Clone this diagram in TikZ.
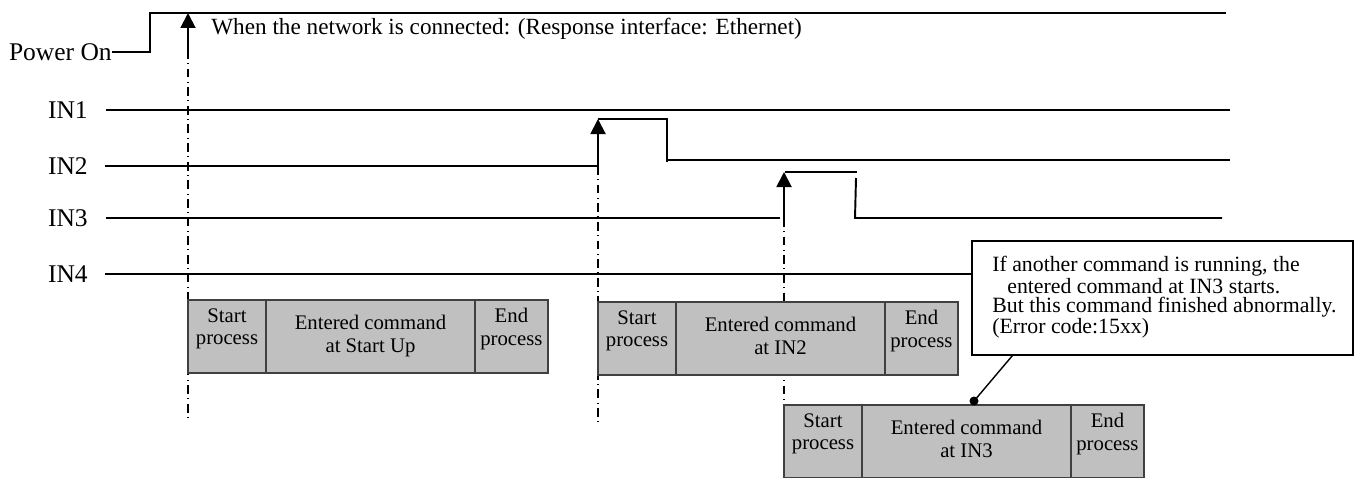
\documentclass[tikz,border=0pt]{standalone}
\usepackage{fontspec}
\setmainfont{Liberation Serif}
\usepackage{xcolor}
\usepackage{tikz}
\usetikzlibrary{calc, arrows.meta, positioning}

\definecolor{boxfill}{HTML}{C0C0C0}
\definecolor{boxline}{HTML}{404040}

\begin{document}
\begin{tikzpicture}[x=0.02cm, y=-0.02cm,
    sig/.style={line width=1.1pt},
    rise/.style={line width=1.1pt, -{Triangle[length=0.3cm, width=0.3cm]}},
    dashdot/.style={line width=0.9pt, dash pattern=on 5pt off 2.5pt on 0.6pt off 2.5pt},
    siglabel/.style={font=\fontsize{14.5}{16}\selectfont, inner sep=0pt, anchor=east},
    procbox/.style={draw=boxline, fill=boxfill, line width=0.9pt, minimum height=1.46cm,
        inner sep=0pt, outer sep=0pt, anchor=north west},
    proctext/.style={font=\fontsize{11.8}{13}\selectfont, align=center, inner sep=0pt, anchor=north},
    notebox/.style={draw, line width=0.9pt, fill=white, minimum width=7.62cm, minimum height=2.28cm,
        inner sep=0pt},
    notetext/.style={align=left, inner sep=0pt, anchor=north west,
        font=\fontsize{12.4}{10.9}\selectfont}]
    \useasboundingbox (0,0) rectangle (1361,477);

    % --- Nhãn tín hiệu
    \node[siglabel] (pwr) at (112,52) {Power On};
    \node[siglabel] (in1) at (88,110) {IN1};
    \node[siglabel] (in2) at (88,166) {IN2};
    \node[siglabel] (in3) at (88,218) {IN3};
    \node[siglabel] (in4) at (88,274) {IN4};

    % Các điểm sườn lên
    \coordinate (A1) at (188,50);
    \coordinate (A2) at (598,166);
    \coordinate (A3) at (784,218);

    % Các nét gạch chấm (vẽ trước, các hộp che lên)
    \draw[dashdot] (A1) -- (188,422);
    \draw[dashdot] (A2) -- (598,422);
    \draw[dashdot] (A3) -- (784,477);

    % --- Power On
    \draw[sig] (pwr.east) -- (150,52) -- (150,13) -- (1226,13);
    \draw[rise] (A1) -- (188,13);
    \node[anchor=west, inner sep=0pt, font=\fontsize{13.2}{15}\selectfont] (hdr) at (211,29)
        {When the network is connected: (Response interface: Ethernet)};

    % --- IN1
    \draw[sig] ($(in1.east)+(18,0)$) -- (1230,110);

    % --- IN2
    \draw[sig] ($(in2.east)+(17,0)$) -- (A2);
    \draw[rise] (A2) -- (598,119);
    \draw[sig] (598,119) -- (667,119) -- (667,162);
    \draw[sig] (667,160) -- (1230,160);

    % --- IN3
    \draw[sig] ($(in3.east)+(18,0)$) -- (780,218);
    \draw[rise] (A3) -- (784,172);
    \draw[sig] (785,172) -- (857,172);
    \draw[sig] (856,178) -- (855,218) -- (1222,218);

    % --- Hộp ghi chú
    \node[notebox] (note) at (1162.5,298) {};
    \node[notetext] (notetxt) at (992,256)
        {If another command is running, the\\
         \hspace*{0.3cm}entered command at IN3 starts.\\
         But this command finished abnormally.\\
         (Error code:15xx)};

    % --- IN4
    \draw[sig] ($(in4.east)+(17,0)$) -- (note.west |- in4.east);

    % --- Các khối xử lý
    \foreach \r/\x/\y/\cmd in {a/188/300/{at Start Up}, b/598/302/{at IN2}, c/784/405/{at IN3}} {
        \node[procbox, minimum width=1.56cm] (\r-start) at (\x,\y) {};
        \node[procbox, minimum width=4.18cm] (\r-cmd) at (\r-start.north east) {};
        \node[procbox, minimum width=1.46cm] (\r-end) at (\r-cmd.north east) {};
        \node[proctext] (\r-t1) at ($(\r-start.north)+(0,8)$) {Start\\process};
        \node[proctext] (\r-t2) at ($(\r-cmd.north)+(0,15)$) {Entered command\\\cmd};
        \node[proctext] (\r-t3) at ($(\r-end.north)+(0,8)$) {End\\process};
    }

    % Đường chỉ từ ghi chú
    \coordinate (dot) at (974,401);
    \draw[line width=0.8pt] ($(note.south west)+(41,0)$) -- (dot);
    \fill (dot) circle[radius=0.09cm];

\end{tikzpicture}
\end{document}
